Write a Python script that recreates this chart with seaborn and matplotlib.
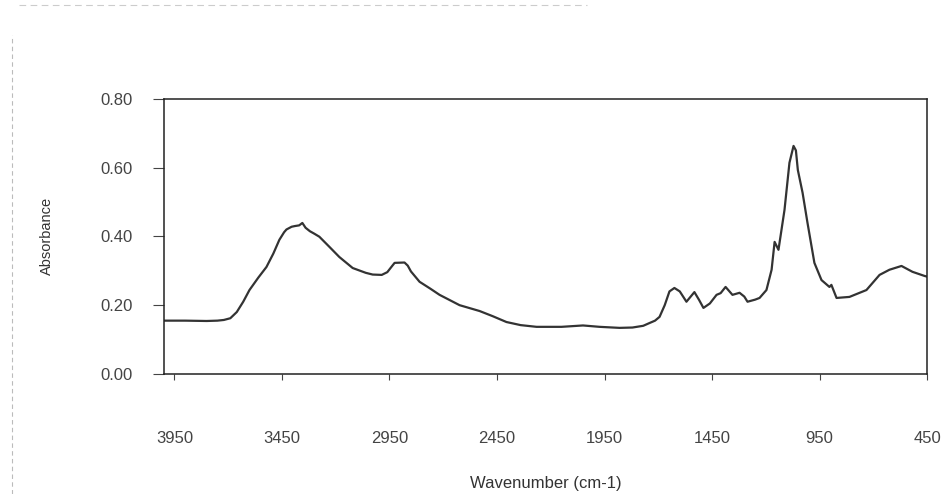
import matplotlib
matplotlib.use("Agg")
import matplotlib.pyplot as plt
import seaborn as sns
import pandas as pd
from matplotlib.lines import Line2D

wavenumber = [4000, 3900, 3800, 3750, 3720, 3690, 3660, 3630, 3601, 3560, 3522, 3490, 3462, 3440,
              3429, 3405, 3390, 3370, 3355, 3340, 3320, 3300,
              3276, 3230, 3183, 3121, 3060, 3028, 2986, 2960, 2940, 2926, 2880, 2865, 2850, 2810,
              2760, 2717, 2624, 2531, 2470, 2406, 2340, 2266, 2150, 2050, 1973, 1880, 1820,
              1770, 1741, 1715, 1694, 1670, 1648, 1625, 1600, 1569, 1532, 1510, 1490, 1460,
              1429, 1410, 1387, 1355, 1322, 1300, 1285, 1250, 1229, 1197, 1173, 1159, 1141,
              1113, 1090, 1071, 1060, 1051, 1040, 1029, 1006, 974, 941, 904, 895, 871, 811, 732,
              671, 625, 569, 518, 462, 450]
absorbance = [0.155, 0.155, 0.154, 0.155, 0.157, 0.162, 0.180, 0.210, 0.244, 0.280, 0.311, 0.350,
              0.390, 0.412, 0.420, 0.428, 0.430, 0.432, 0.439, 0.425, 0.415, 0.408,
              0.399, 0.370, 0.340, 0.308, 0.294, 0.289, 0.288, 0.296, 0.312, 0.323, 0.324, 0.315,
              0.298, 0.268, 0.248, 0.230, 0.200, 0.183, 0.168, 0.151, 0.142, 0.137, 0.137, 0.141,
              0.137, 0.134, 0.135, 0.140, 0.148, 0.155, 0.166, 0.200, 0.240, 0.250, 0.240,
              0.210, 0.238, 0.215, 0.192, 0.205, 0.230, 0.235, 0.253, 0.230, 0.236, 0.225,
              0.210, 0.216, 0.221, 0.244, 0.303, 0.384, 0.361, 0.477, 0.614, 0.663, 0.650,
              0.593, 0.560, 0.527, 0.439, 0.323, 0.273, 0.253, 0.259, 0.221, 0.224, 0.244,
              0.288, 0.303, 0.314, 0.297, 0.285, 0.283]

x_ticks = [3950, 3450, 2950, 2450, 1950, 1450, 950, 450]
y_ticks = [0.00, 0.20, 0.40, 0.60, 0.80]

df = pd.DataFrame({"Wavenumber": wavenumber, "Absorbance": absorbance})

sns.set_theme(style="white")
plt.rcParams['font.family'] = ['Liberation Sans', 'DejaVu Sans']

fig = plt.figure(figsize=(9.46, 4.94), dpi=100)
ax = fig.add_axes([0.173, 0.243, 0.807, 0.557])

sns.lineplot(data=df, x="Wavenumber", y="Absorbance", ax=ax, color="#333333",
             linewidth=1.6, sort=False)

ax.set_xlim(4000, 450)
ax.set_ylim(0, 0.8)
ax.set_xticks(x_ticks)
ax.set_xticklabels([str(t) for t in x_ticks])
ax.set_yticks(y_ticks)
ax.set_yticklabels([f"{t:.2f}" for t in y_ticks])

for s in ax.spines.values():
    s.set_color("#222222")
    s.set_linewidth(1.1)

ax.tick_params(axis="x", direction="out", length=4, width=0.8, color="#444444",
               pad=37, labelsize=12, labelcolor="#444444", bottom=True)
ax.tick_params(axis="y", direction="out", length=8, width=0.8, color="#444444",
               pad=14, labelsize=12, labelcolor="#444444", left=True)

ax.set_xlabel("Wavenumber (cm-1)", fontsize=12, color="#333333", labelpad=22)
ax.set_ylabel("Absorbance", fontsize=10.5, color="#333333", labelpad=34)

# faint scan-border artefacts
fig.add_artist(Line2D([0.013, 0.013], [0.0, 0.93], transform=fig.transFigure,
                      color="#bbbbbb", lw=0.8, ls=(0, (4, 3))))
fig.add_artist(Line2D([0.02, 0.62], [0.99, 0.99], transform=fig.transFigure,
                      color="#cccccc", lw=0.8, ls=(0, (6, 4))))

fig.savefig("out.png", dpi=100, facecolor="white")
